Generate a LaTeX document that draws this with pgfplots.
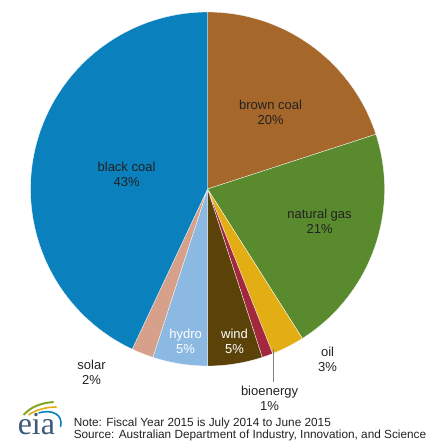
\documentclass[border=0pt]{standalone}
\usepackage{pgfplots}
\usepackage{pgfplotstable}
\pgfplotsset{compat=1.18}
\usepackage{fontspec}
\setmainfont{Liberation Sans}
\newfontfamily\serifeia{Liberation Serif}

\definecolor{c0}{HTML}{A5672A}
\definecolor{c1}{HTML}{5A8A2E}
\definecolor{c2}{HTML}{E3AE14}
\definecolor{c3}{HTML}{A3283E}
\definecolor{c4}{HTML}{5A4209}
\definecolor{c5}{HTML}{8CB9E2}
\definecolor{c6}{HTML}{D7A08A}
\definecolor{c7}{HTML}{0A80BC}
\definecolor{labtxt}{HTML}{222222}
\definecolor{eiatxt}{HTML}{3D5A78}

\pgfplotstableread{
label value
brown 20
gas 21
oil 3
bio 1
wind 5
hydro 5
solar 2
black 43
}\piedata

\begin{document}
\gdef\cum{0}
\foreach \i in {0,...,7}{%
  \pgfplotstablegetelem{\i}{value}\of\piedata
  \pgfmathsetmacro\sa{90-3.6*\cum}%
  \pgfmathsetmacro\newcum{\cum+\pgfplotsretval}%
  \pgfmathsetmacro\ea{90-3.6*\newcum}%
  \expandafter\xdef\csname sa\i\endcsname{\sa}%
  \expandafter\xdef\csname ea\i\endcsname{\ea}%
  \xdef\cum{\newcum}%
}
\begin{tikzpicture}
\begin{axis}[
  width=432pt, height=442pt, scale only axis,
  xmin=0, xmax=432, ymin=0, ymax=442,
  hide axis, clip=false,
]
\addplot[draw=none] coordinates {(0,0) (432,442)};
\pgfplotsinvokeforeach{0,...,7}{
  \fill[fill=c#1, draw=white, line width=0.3pt] (axis cs:202,253) -- ++(\csname sa#1\endcsname:177pt)
    arc[start angle=\csname sa#1\endcsname, end angle=\csname ea#1\endcsname, radius=177pt] -- cycle;
}
\draw[gray, line width=0.6pt] (axis cs:268,93) -- (axis cs:268,60);
\tikzset{lab/.style={align=center, font=\fontsize{13}{15}\selectfont, text=labtxt, inner sep=0pt}}
\node[lab] at (axis cs:265,330) {brown coal\\20\%};
\node[lab] at (axis cs:314,221) {natural gas\\21\%};
\node[lab] at (axis cs:121,268) {black coal\\43\%};
\node[lab, text=white] at (axis cs:180,101) {hydro\\5\%};
\node[lab, text=white] at (axis cs:229,101) {wind\\5\%};
\node[lab] at (axis cs:322,83) {oil\\3\%};
\node[lab] at (axis cs:86,70) {solar\\2\%};
\node[lab] at (axis cs:264,44) {bioenergy\\1\%};
% footer
\node[anchor=base west, inner sep=0pt, font=\fontsize{11.8}{13}\selectfont, text=labtxt] at (axis cs:68,16) {Note: Fiscal Year 2015 is July 2014 to June 2015};
\node[anchor=base west, inner sep=0pt, font=\fontsize{11.8}{13}\selectfont, text=labtxt] at (axis cs:68,3) {Source: Australian Department of Industry, Innovation, and Science};
% eia logo
\node[anchor=base west, inner sep=0pt, font=\serifeia\fontsize{32}{32}\selectfont, text=eiatxt] at (axis cs:12,7) {eia};
\draw[line width=2pt, color=c1!75!yellow] (axis cs:18,27) .. controls (axis cs:25,35) and (axis cs:35,39) .. (axis cs:48,40);
\draw[line width=1.6pt, color=c2] (axis cs:23,27) .. controls (axis cs:30,32) and (axis cs:40,35) .. (axis cs:51,35);
\draw[line width=1.6pt, color=c7] (axis cs:33,29) .. controls (axis cs:46,33) and (axis cs:58,28) .. (axis cs:55,15);
\end{axis}
\end{tikzpicture}
\end{document}
